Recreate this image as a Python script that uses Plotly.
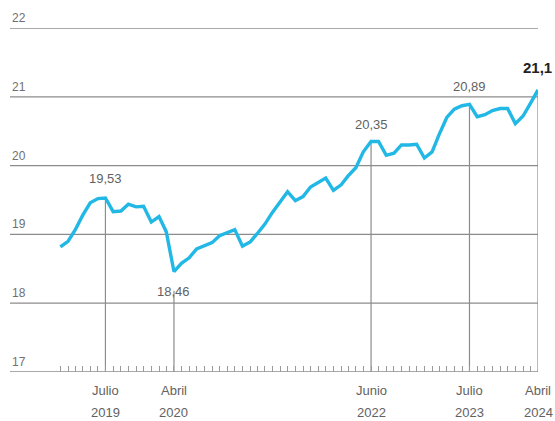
import pandas as pd
import plotly.graph_objects as go

# ---- data ----
months = pd.date_range("2019-01-01", "2024-04-01", freq="MS")
values = [
    18.82, 18.90, 19.06, 19.28, 19.46, 19.52, 19.53, 19.33, 19.34, 19.44, 19.40, 19.41,
    19.18, 19.26, 19.04, 18.46, 18.58, 18.66, 18.79, 18.84, 18.88, 18.98, 19.03, 19.07,
    18.83, 18.89, 19.01, 19.15, 19.32, 19.48, 19.62, 19.49, 19.55, 19.69, 19.76, 19.82,
    19.64, 19.72, 19.85, 19.97, 20.20, 20.35, 20.35, 20.15, 20.18, 20.30, 20.30, 20.31,
    20.11, 20.20, 20.45, 20.70, 20.82, 20.87, 20.89, 20.71, 20.74, 20.80, 20.83, 20.83,
    20.61, 20.72, 20.90, 21.10,
]
key_dates = ["2019-07-01", "2020-04-01", "2022-06-01", "2023-07-01", "2024-04-01"]
key_months = ["Julio", "Abril", "Junio", "Julio", "Abril"]
key_years = ["2019", "2020", "2022", "2023", "2024"]
key_labels = ["19,53", "18,46", "20,35", "20,89", "21,1"]
y_ticks = [17, 18, 19, 20, 21, 22]

LINE = "#22b8e6"
GRID = "#8c8c8c"
TXT = "#626262"
FONT = "Liberation Sans, Arial, sans-serif"

val_by_date = dict(zip(months, values))

fig = go.Figure()
fig.add_trace(go.Scatter(
    x=months, y=values, mode="lines",
    line=dict(color=LINE, width=3.4, shape="linear"),
    hoverinfo="skip", showlegend=False,
))

shapes = []
annotations = []
# horizontal gridlines + y labels
for v in y_ticks:
    shapes.append(dict(type="line", xref="paper", yref="y", x0=0, x1=1, y0=v, y1=v,
                       line=dict(color=GRID, width=1.3), layer="below"))
    annotations.append(dict(xref="paper", yref="y", x=0, y=v, text=str(v),
                            xanchor="left", yanchor="bottom", showarrow=False,
                            yshift=1, font=dict(size=12, color="#707070", family=FONT)))

# vertical markers, labels
offsets = [(0, 19), (0, -20), (0, 17), (0, 18), (-17, 22)]
for i, d in enumerate(key_dates):
    dt = pd.Timestamp(d)
    v = val_by_date[dt]
    top = v if i != 1 else v - 0.28
    shapes.append(dict(type="line", xref="x", yref="y", x0=dt, x1=dt, y0=17, y1=top,
                       line=dict(color=GRID, width=1.2), layer="below"))
    bold = i == len(key_dates) - 1
    dx, dy = offsets[i]
    annotations.append(dict(
        xref="x", yref="y", x=dt, y=v, text=f"<b>{key_labels[i]}</b>" if bold else key_labels[i],
        showarrow=False, xanchor="left" if bold else "center", yanchor="middle",
        xshift=dx, yshift=dy,
        font=dict(size=15 if bold else 13, color="#222222" if bold else TXT, family=FONT)))
    annotations.append(dict(xref="x", yref="paper", x=dt, y=0, text=key_months[i],
                            showarrow=False, xanchor="center", yanchor="middle", yshift=-18,
                            font=dict(size=13, color=TXT, family=FONT)))
    annotations.append(dict(xref="x", yref="paper", x=dt, y=0, text=key_years[i],
                            showarrow=False, xanchor="center", yanchor="middle", yshift=-40,
                            font=dict(size=13, color=TXT, family=FONT)))

fig.update_layout(
    width=555, height=421,
    margin=dict(l=10, r=17, t=28, b=49),
    paper_bgcolor="white", plot_bgcolor="white",
    shapes=shapes, annotations=annotations,
    xaxis=dict(
        range=["2018-06-13", "2024-04-01"], showgrid=False, zeroline=False,
        showline=False, tickmode="array", tickvals=list(months), ticktext=[""] * len(months),
        ticks="inside", ticklen=6, tickwidth=1, tickcolor="#9a9a9a",
    ),
    yaxis=dict(range=[17, 22], showgrid=False, zeroline=False, showticklabels=False,
               showline=False),
)

fig.write_html("out.html", config={"displayModeBar": False},
               post_script="document.body.style.margin='0';document.body.style.overflow='hidden';")
